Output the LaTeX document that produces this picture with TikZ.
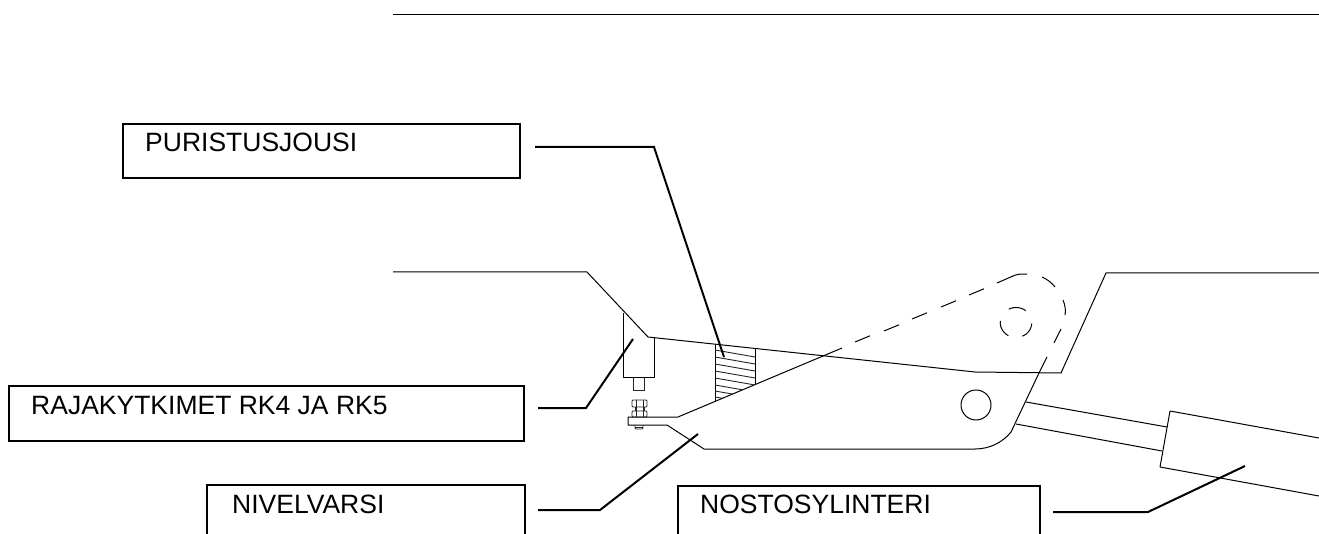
\documentclass[tikz,border=0pt]{standalone}
\usepackage{fontspec}
\setmainfont{Liberation Sans}
\tikzset{
  x=1pt,y=-1pt,
  part/.style={line width=1pt,black,line join=round},
  thin part/.style={line width=0.9pt,black!85},
  lbox/.style={draw=black,line width=1.6pt,inner sep=0pt,outer sep=0pt,anchor=north west},
  lbl/.style={inner sep=0pt,anchor=base west,font=\fontsize{26.5}{30}\selectfont,text=black},
  leader/.style={line width=2pt,black},
}
\newcommand{\dashedarc}[2]{\draw[part] plot[smooth,samples=8,domain=#1:#2] ({1016+15.8*cos(\x)},{322.5+15*sin(\x)});}
\begin{document}
\begin{tikzpicture}
\useasboundingbox (0,0) rectangle (1319,534);
\clip (0,0) rectangle (1319,534);
\fill[white] (0,0) rectangle (1319,534);
% label boxes
\node[lbox,minimum width=397pt,minimum height=54pt] (pbox) at (123,124) {};
\node[lbox,minimum width=515pt,minimum height=55pt] (rbox) at (9,386) {};
\node[lbox,minimum width=318pt,minimum height=70pt] (nbox) at (207,485) {};
\node[lbox,minimum width=362pt,minimum height=70pt] (cbox) at (678,486) {};
\node[lbl] (ptxt) at (145,152) {PURISTUSJOUSI};
\node[lbl] (rtxt) at (31,414) {RAJAKYTKIMET RK4 JA RK5};
\node[lbl] (ntxt) at (232,513) {NIVELVARSI};
\node[lbl] (ctxt) at (700,513) {NOSTOSYLINTERI};
% structure
\draw[part] (393,15) -- (1319,15);
\draw[part] (393,272) -- (587,272) -- (648,337) -- (975,372) -- (1061,373) -- (1106,273) -- (1319,273);
% switch
\draw[part] (623,313) -- (623,377) -- (654,377) -- (654,338);
\draw[thin part] (633,377) -- (633,390) -- (644,390) -- (644,377);
% spring
\draw[part] (715,345) -- (715,401);
\draw[part] (755,349) -- (755,384);
\begin{scope}
\clip (715,345) -- (755,349) -- (755,384) -- (715,401.5) -- cycle;
\foreach \yy in {350,357,364,371,378,385,391,397}
  \draw[thin part] (715,\yy) -- (755,\yy+7);
\end{scope}
% arm
\draw[part] (842,348) -- (678,417) -- (628,417) -- (628,425) -- (667,425) -- (704,449) -- (975,449)
  .. controls (990,449) and (1003,442) .. (1011,432) -- (1039,373) -- (1047,357);
\foreach \a/\b in {855/342,884/331,912/319,941/307,969/295}
  \draw[part] (\a,\b) -- ++(15,-6.2);
\draw[part] (1061,329) -- (1054,343);
\draw[part] (997,283) -- (1013,276) .. controls (1017,274) and (1021,274) .. (1027,274);
\draw[part] (1042,277) .. controls (1047,279) and (1052,283) .. (1055,287);
\draw[part] (1063,300) .. controls (1065,305) and (1066,310) .. (1065,315);
% pivot
\draw[part] (976,405) circle (15);
\dashedarc{-117}{-52}
\dashedarc{119}{186}
\dashedarc{4}{66}
% bolt
\draw[thin part,rounded corners=1pt] (632,400) rectangle (647,407);
\draw[thin part] (635,407) -- (635,411) (644,407) -- (644,411);
\draw[thin part,rounded corners=1pt] (632,411) rectangle (647,417);
\draw[thin part] (636,400) -- (636,417) (643,400) -- (643,417);
\draw[thin part,rounded corners=1pt] (635,425) -- (635,429) -- (643,429) -- (643,425);
\draw[thin part] (635,427) -- (643,427);
% cylinder
\draw[part] (1026,402) -- (1167,427);
\draw[part] (1016,424) -- (1162,451);
\draw[part] (1319,438) -- (1170,411) -- (1160,467) -- (1319,496);
% leaders
\coordinate (p1) at (535,147);
\coordinate (p2) at (654,147);
\coordinate (p3) at (724,357);
\coordinate (r1) at (538,408);
\coordinate (r2) at (586,408);
\coordinate (r3) at (633,339);
\coordinate (n1) at (538,510);
\coordinate (n2) at (600,510);
\coordinate (n3) at (698,434);
\coordinate (c1) at (1053,512);
\coordinate (c2) at (1148,512);
\coordinate (c3) at (1245,466);
\draw[leader] (p1) -- (p2) -- (p3);
\draw[leader] (r1) -- (r2) -- (r3);
\draw[leader] (n1) -- (n2) -- (n3);
\draw[leader] (c1) -- (c2) -- (c3);
\end{tikzpicture}
\end{document}
